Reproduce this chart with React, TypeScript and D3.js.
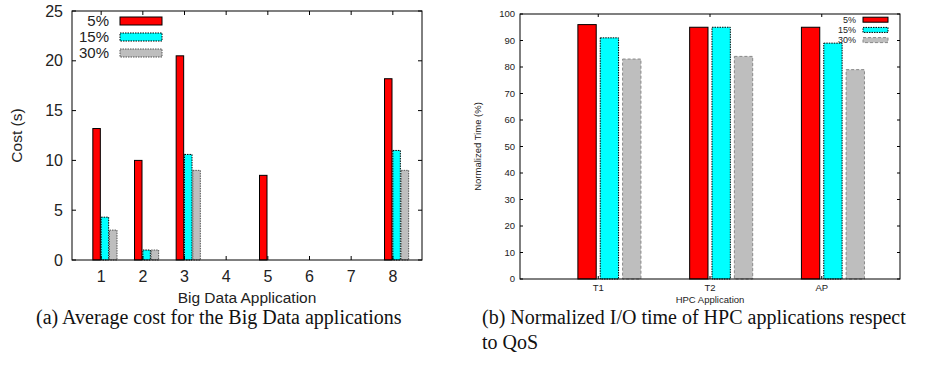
import { useRef, useEffect } from 'react';
import * as d3 from 'd3';

// (a) Big Data applications
const bigDataApps = ['1', '2', '3', '4', '5', '6', '7', '8'];
const cost5 = [13.2, 10.0, 20.5, 0, 8.5, 0, 0, 18.2];
const cost15 = [4.3, 1.0, 10.6, 0, 0, 0, 0, 11.0];
const cost30 = [3.0, 1.0, 9.0, 0, 0, 0, 0, 9.0];
const costTicks = [0, 5, 10, 15, 20, 25];

// (b) HPC applications
const hpcApps = ['T1', 'T2', 'AP'];
const time5 = [96, 95, 95];
const time15 = [91, 95, 89];
const time30 = [83, 84, 79];
const timeTicks = [0, 10, 20, 30, 40, 50, 60, 70, 80, 90, 100];

const seriesNames = ['5%', '15%', '30%'];

const SANS = '"Liberation Sans", Arial, Helvetica, sans-serif';
const SERIF = '"Liberation Serif", "Times New Roman", serif';

type Panel = {
  left: number; top: number; right: number; bottom: number;
  cats: string[];
  series: number[][];
  yMax: number;
  yTicks: number[];
  barW: number;
  offset0: number;
  tickFont: number;
  titleFont: number;
  yLabelGap: number;
  xTitle: string;
  yTitle: string;
  yTitleX: number;
  xTitleY: number;
  xLabelY: number;
  tickLen: number;
  legend: { labelX: number; swX: number; swW: number; swH: number; y0: number; step: number; font: number };
  grayStroke: string;
  grayDash: string;
};

function drawPanel(svg: d3.Selection<SVGSVGElement, unknown, null, undefined>, p: Panel) {
  const g = svg.append('g');
  const x = d3.scaleLinear().domain([-0.7, p.cats.length - 0.3]).range([p.left, p.right]);
  const y = d3.scaleLinear().domain([0, p.yMax]).range([p.bottom, p.top]);

  const fills = ['#ff0000', '#00ffff', '#bebebe'];
  const strokes = ['#000', '#000', p.grayStroke];
  const dashes = [null, '1.5,1', p.grayDash];

  // bars
  p.series.forEach((vals, j) => {
    g.selectAll(null)
      .data(vals.map((v, i) => ({ v, i })).filter(d => d.v > 0))
      .enter()
      .append('rect')
      .attr('x', d => x(d.i + p.offset0 + j * 0.2) - (x(p.barW) - x(0)) / 2)
      .attr('width', x(p.barW) - x(0))
      .attr('y', d => y(d.v))
      .attr('height', d => y(0) - y(d.v))
      .attr('fill', fills[j])
      .attr('stroke', strokes[j])
      .attr('stroke-width', 1)
      .attr('stroke-dasharray', dashes[j]);
  });

  // frame
  g.append('rect')
    .attr('x', p.left).attr('y', p.top)
    .attr('width', p.right - p.left).attr('height', p.bottom - p.top)
    .attr('fill', 'none').attr('stroke', '#000').attr('stroke-width', 1);

  // ticks (mirrored)
  p.yTicks.forEach(t => {
    g.append('line').attr('x1', p.left).attr('x2', p.left + p.tickLen)
      .attr('y1', y(t)).attr('y2', y(t)).attr('stroke', '#000');
    g.append('line').attr('x1', p.right).attr('x2', p.right - p.tickLen)
      .attr('y1', y(t)).attr('y2', y(t)).attr('stroke', '#000');
    g.append('text').attr('x', p.left - p.yLabelGap).attr('y', y(t))
      .attr('dy', '0.35em').attr('text-anchor', 'end')
      .attr('font-family', SANS).attr('font-size', p.tickFont).attr('fill', '#222')
      .text(t);
  });
  p.cats.forEach((c, i) => {
    g.append('line').attr('x1', x(i)).attr('x2', x(i))
      .attr('y1', p.bottom).attr('y2', p.bottom - p.tickLen).attr('stroke', '#000');
    g.append('line').attr('x1', x(i)).attr('x2', x(i))
      .attr('y1', p.top).attr('y2', p.top + p.tickLen).attr('stroke', '#000');
    g.append('text').attr('x', x(i)).attr('y', p.xLabelY)
      .attr('dy', '0.35em').attr('text-anchor', 'middle')
      .attr('font-family', SANS).attr('font-size', p.tickFont).attr('fill', '#222')
      .text(c);
  });

  // axis titles
  g.append('text').attr('x', (p.left + p.right) / 2).attr('y', p.xTitleY)
    .attr('dy', '0.35em').attr('text-anchor', 'middle')
    .attr('font-family', SANS).attr('font-size', p.titleFont).attr('fill', '#222')
    .text(p.xTitle);
  g.append('text')
    .attr('transform', `translate(${p.yTitleX},${(p.top + p.bottom) / 2}) rotate(-90)`)
    .attr('dy', '0.35em').attr('text-anchor', 'middle')
    .attr('font-family', SANS).attr('font-size', p.titleFont).attr('fill', '#222')
    .text(p.yTitle);

  // legend
  const L = p.legend;
  seriesNames.forEach((name, j) => {
    const cy = L.y0 + j * L.step;
    g.append('text').attr('x', L.labelX).attr('y', cy)
      .attr('dy', '0.35em').attr('text-anchor', 'end')
      .attr('font-family', SANS).attr('font-size', L.font).attr('fill', '#222')
      .text(name);
    g.append('rect').attr('x', L.swX).attr('y', cy - L.swH / 2)
      .attr('width', L.swW).attr('height', L.swH)
      .attr('fill', fills[j]).attr('stroke', strokes[j])
      .attr('stroke-dasharray', dashes[j]);
  });
}

export default function App() {
  const ref = useRef<SVGSVGElement>(null);

  useEffect(() => {
    const svg = d3.select(ref.current!);
    svg.selectAll('*').remove();

    drawPanel(svg, {
      left: 72, top: 11, right: 422, bottom: 260,
      cats: bigDataApps,
      series: [cost5, cost15, cost30],
      yMax: 25, yTicks: costTicks,
      barW: 0.18, offset0: -0.11,
      tickFont: 16, titleFont: 15.5, yLabelGap: 9,
      xTitle: 'Big Data Application', yTitle: 'Cost (s)',
      yTitleX: 17, xTitleY: 298, xLabelY: 276,
      tickLen: 4,
      legend: { labelX: 109, swX: 120, swW: 42, swH: 8, y0: 21, step: 16, font: 15 },
      grayStroke: '#555', grayDash: '1.5,1',
    });

    drawPanel(svg, {
      left: 520, top: 14, right: 900, bottom: 279,
      cats: hpcApps,
      series: [time5, time15, time30],
      yMax: 100, yTicks: timeTicks,
      barW: 0.164, offset0: -0.1,
      tickFont: 9.5, titleFont: 9.5, yLabelGap: 5,
      xTitle: 'HPC Application', yTitle: 'Normalized Time (%)',
      yTitleX: 478, xTitleY: 300, xLabelY: 288,
      tickLen: 3,
      legend: { labelX: 856, swX: 863, swW: 25, swH: 5, y0: 19.7, step: 10.2, font: 9 },
      grayStroke: '#888', grayDash: '3,2',
    });

    // captions
    const cap = (x: number, y: number, s: string) =>
      svg.append('text').attr('x', x).attr('y', y)
        .attr('font-family', SERIF).attr('font-size', 20).attr('fill', '#111')
        .text(s);
    cap(36, 324, '(a)  Average cost for the Big Data applications');
    cap(482, 324, '(b)  Normalized I/O time of HPC applications respect');
    cap(482, 349, 'to QoS');
  }, []);

  return (
    <svg
      ref={ref}
      width={928}
      height={376}
      style={{ position: 'absolute', left: 0, top: 0, background: '#fff' }}
    />
  );
}
